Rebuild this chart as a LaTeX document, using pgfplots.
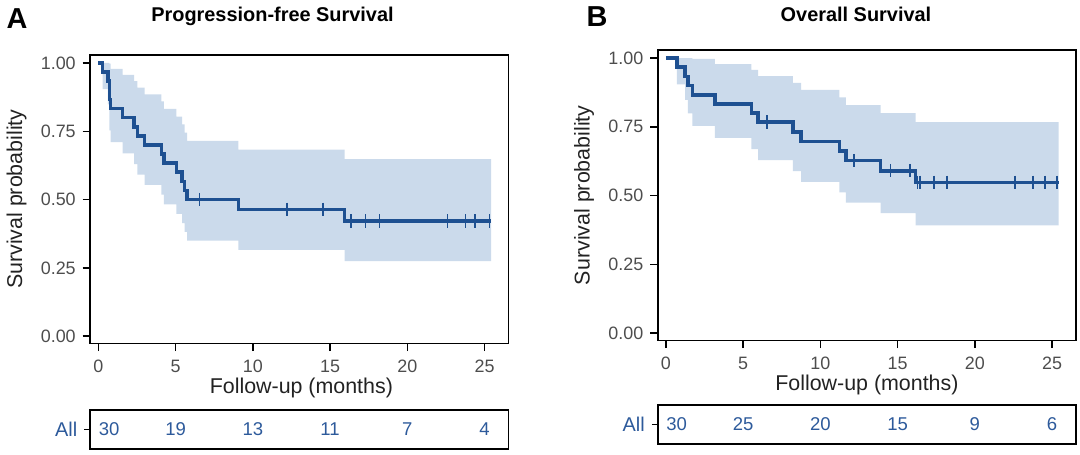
\documentclass[border=0pt]{standalone}
\usepackage{pgfplots}
\pgfplotsset{compat=1.18}
\usepgfplotslibrary{fillbetween}
\usepackage{fontspec}
\setmainfont{Liberation Sans}
\definecolor{kmline}{RGB}{30,80,145}
\definecolor{kmband}{RGB}{203,218,235}
\definecolor{riskblue}{RGB}{45,90,155}
\definecolor{tickgray}{RGB}{77,77,77}
\pgfplotsset{
 kmaxis/.style={
  scale only axis, width=210pt,
  xmin=-0.52, xmax=26.55, ymin=-0.027, ymax=1.03,
  xtick={0,5,...,25}, ytick={0,0.25,0.5,0.75,1},
  tick align=outside, tick pos=left, major tick length=3.8pt,
  axis line style={line width=0.8pt}, every tick/.style={black, line width=0.7pt},
  /pgf/number format/assume math mode=true,
  yticklabel style={/pgf/number format/.cd, fixed, fixed zerofill, precision=2, assume math mode=true},
  xticklabel style={yshift=-1pt},
  tick label style={font=\fontsize{9}{10}\selectfont, text=tickgray},
 },
 riskaxis/.style={
  scale only axis, width=210pt,
  xmin=-0.52, xmax=26.55, ymin=0, ymax=1,
  xtick=\empty, ytick={0.5}, yticklabels={All}, ytick pos=left,
  tick align=outside, major tick length=3pt,
  axis line style={line width=0.8pt}, every tick/.style={black, line width=0.7pt},
  yticklabel style={text=riskblue, font=\fontsize{10}{12}\selectfont},
 },
 risknums/.style={only marks, mark=none, nodes near coords, point meta=explicit symbolic,
  nodes near coords align={center},
  every node near coord/.append style={text=riskblue, font=\fontsize{9.3}{11}\selectfont}},
}
\begin{document}
\begin{tikzpicture}
\path (0,0) rectangle (540pt,228pt);
% ---------------- Panel A ----------------
\begin{axis}[kmaxis, height=145pt, at={(43pt,55.5pt)}, anchor=south west]
\addplot[name path=upA, const plot, draw=none] coordinates {
(0,1) (0.28,1) (0.62,1) (0.72,0.9973) (0.8,0.978) (1.57,0.9567) (2.32,0.934) (2.53,0.910)
(3.0,0.885) (4.08,0.859) (4.25,0.832) (5.05,0.804) (5.43,0.775) (5.58,0.745) (5.75,0.715)
(9.07,0.683) (15.94,0.648) (25.42,0.648)};
\addplot[name path=loA, const plot, draw=none] coordinates {
(0,1) (0.28,0.9045) (0.62,0.8482) (0.72,0.7532) (0.8,0.7101) (1.57,0.6689) (2.32,0.6293) (2.53,0.591)
(3.0,0.554) (4.08,0.518) (4.25,0.482) (5.05,0.448) (5.43,0.414) (5.58,0.382) (5.75,0.350)
(9.07,0.3155) (15.94,0.2748) (25.42,0.2748)};
\addplot[kmband, draw=none] fill between[of=upA and loA];
\addplot[const plot, kmline, line width=1.8pt] coordinates {
(0,1) (0.28,0.9667) (0.62,0.9333) (0.72,0.8667) (0.8,0.8333) (1.57,0.8) (2.32,0.7667) (2.53,0.7333)
(3.0,0.7) (4.08,0.6667) (4.25,0.6333) (5.05,0.6) (5.43,0.5667) (5.58,0.5333) (5.75,0.5)
(9.07,0.4643) (15.94,0.4221) (25.45,0.4221)};
\addplot[only marks, mark=|, mark size=3.4pt, kmline, mark options={line width=0.8pt}] coordinates {
(6.54,0.5) (12.2,0.4643) (14.55,0.4643) (16.37,0.4221) (17.3,0.4221) (18.19,0.4221)
(22.59,0.4221) (23.77,0.4221) (24.4,0.4221) (25.33,0.4221)};
\end{axis}
\begin{axis}[riskaxis, height=19.65pt, at={(43pt,2.5pt)}, anchor=south west]
\addplot[risknums] coordinates {(0.7,0.5)[30] (5,0.5)[19] (10,0.5)[13] (15,0.5)[11] (20,0.5)[7] (25,0.5)[4]};
\end{axis}
% ---------------- Panel B ----------------
\begin{axis}[kmaxis, height=146pt, at={(328pt,57pt)}, anchor=south west]
\addplot[name path=upB, const plot, draw=none] coordinates {
(0,1) (0.71,1) (1.24,1) (1.42,1) (1.72,0.9973) (3.18,0.978) (5.54,0.9567) (5.97,0.934)
(8.22,0.9096) (8.76,0.8839) (11.23,0.857) (11.65,0.8291) (13.9,0.7994) (16.16,0.7673) (25.42,0.7673)};
\addplot[name path=loB, const plot, draw=none] coordinates {
(0,1) (0.71,0.9045) (1.24,0.8482) (1.42,0.7988) (1.72,0.7532) (3.18,0.7101) (5.54,0.6689) (5.97,0.6293)
(8.22,0.5888) (8.76,0.5496) (11.23,0.5116) (11.65,0.4746) (13.9,0.436) (16.16,0.3917) (25.42,0.3917)};
\addplot[kmband, draw=none] fill between[of=upB and loB];
\addplot[const plot, kmline, line width=1.8pt] coordinates {
(0,1) (0.71,0.9667) (1.24,0.9333) (1.42,0.9) (1.72,0.8667) (3.18,0.8333) (5.54,0.8) (5.97,0.7667)
(8.22,0.7318) (8.76,0.697) (11.23,0.6621) (11.65,0.6273) (13.9,0.5904) (16.16,0.5482) (25.45,0.5482)};
\addplot[only marks, mark=|, mark size=3.4pt, kmline, mark options={line width=0.8pt}] coordinates {
(6.55,0.7667) (12.19,0.6273) (14.55,0.5904) (15.8,0.5904) (16.3,0.5482) (16.44,0.5482) (17.34,0.5482)
(18.2,0.5482) (22.6,0.5482) (23.78,0.5482) (24.53,0.5482) (25.33,0.5482)};
\end{axis}
\begin{axis}[riskaxis, height=19.5pt, at={(328pt,5.15pt)}, anchor=south west]
\addplot[risknums] coordinates {(0.7,0.5)[30] (5,0.5)[25] (10,0.5)[20] (15,0.5)[15] (20,0.5)[9] (25,0.5)[6]};
\end{axis}
% ---------------- Texts ----------------
\node[font=\bfseries\fontsize{14.5}{16}\selectfont] at (6.25pt,218.5pt) {A};
\node[font=\bfseries\fontsize{14.5}{16}\selectfont] at (297.5pt,219.5pt) {B};
\node[font=\bfseries\fontsize{10}{12}\selectfont] at (134.5pt,220pt) {Progression-free Survival};
\node[font=\bfseries\fontsize{10}{12}\selectfont] at (427.5pt,221pt) {Overall Survival};
\node[font=\fontsize{10.75}{12}\selectfont, text={rgb,255:red,34;green,34;blue,34}] at (149pt,33pt) {Follow-up (months)};
\node[font=\fontsize{10.75}{12}\selectfont, text={rgb,255:red,34;green,34;blue,34}] at (433pt,34.6pt) {Follow-up (months)};
\node[font=\fontsize{10.75}{12}\selectfont, rotate=90, text={rgb,255:red,34;green,34;blue,34}] at (6pt,128pt) {Survival probability};
\node[font=\fontsize{10.75}{12}\selectfont, rotate=90, text={rgb,255:red,34;green,34;blue,34}] at (291pt,130pt) {Survival probability};
\end{tikzpicture}
\end{document}
